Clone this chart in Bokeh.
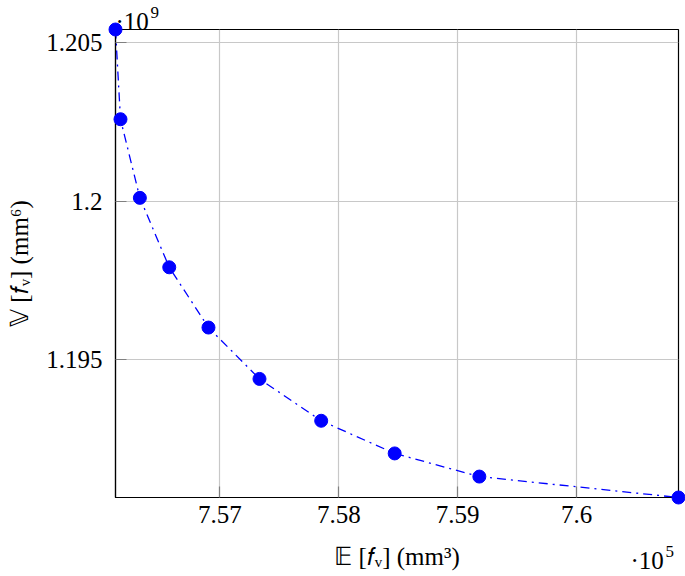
from bokeh.plotting import figure
from bokeh.models import Range1d, FixedTicker, CustomJSTickFormatter
from bokeh.core.properties import value
from bokeh.embed import file_html
from bokeh.resources import INLINE

# Data (x in mm^3, y in mm^6)
e_vals = [756122, 756164, 756327, 756574, 756904, 757333, 757852, 758470, 759182, 760857]
v_vals = [1.20542e9, 1.20259e9, 1.20011e9, 1.19792e9, 1.19602e9, 1.19440e9,
          1.19308e9, 1.19205e9, 1.19132e9, 1.19066e9]
x_ticks = [757000, 758000, 759000, 760000]
y_ticks = [1.195e9, 1.200e9, 1.205e9]
x_scale_base, x_scale_exp = "·10", "5"
y_scale_base, y_scale_exp = "·10", "9"
x_label = "𝔼 [𝑓ᵥ] (mm³)"
y_label = "𝕍 [𝑓ᵥ] (mm⁶)"

FONT = "Liberation Serif"
FS = "25px"
FS_SUP = "17px"

p = figure(width=685, height=576, output_backend="svg", toolbar_location=None,
           x_range=Range1d(min(e_vals), max(e_vals)),
           y_range=Range1d(min(v_vals), max(v_vals)),
           min_border_left=115, min_border_right=7, min_border_top=29, min_border_bottom=79)

p.background_fill_color = "white"
p.border_fill_color = "white"
p.outline_line_color = "black"
p.outline_line_width = 1.2

for ax in (p.xaxis[0], p.yaxis[0]):
    ax.axis_line_color = "black"
    ax.axis_line_width = 1.2
    ax.major_tick_in = 11
    ax.major_tick_out = 0
    ax.major_tick_line_color = "#808080"
    ax.major_tick_line_width = 1.2
    ax.minor_tick_line_color = None
    ax.major_label_text_font = FONT
    ax.major_label_text_font_size = FS
    ax.major_label_text_color = "black"
    ax.axis_label_text_font = FONT
    ax.axis_label_text_font_size = FS
    ax.axis_label_text_font_style = "normal"
    ax.axis_label_text_color = "black"

p.xaxis[0].ticker = FixedTicker(ticks=x_ticks)
p.yaxis[0].ticker = FixedTicker(ticks=y_ticks)
p.xaxis[0].formatter = CustomJSTickFormatter(code="return String(Number((tick/1e5).toFixed(4)));")
p.yaxis[0].formatter = CustomJSTickFormatter(code="return String(Number((tick/1e9).toFixed(4)));")
p.xaxis[0].major_label_standoff = 8
p.yaxis[0].major_label_standoff = 13
p.xaxis[0].axis_label = x_label
p.yaxis[0].axis_label = y_label
p.xaxis[0].axis_label_standoff = 17
p.yaxis[0].axis_label_standoff = 10

p.xgrid.ticker = FixedTicker(ticks=x_ticks)
p.ygrid.ticker = FixedTicker(ticks=y_ticks)
for g in (p.xgrid[0], p.ygrid[0]):
    g.grid_line_color = "#c8c8c8"
    g.grid_line_width = 1.2

p.line(e_vals, v_vals, line_color="#0000ff", line_width=1.3, line_dash="9 5 2 5")
pts = p.scatter(e_vals, v_vals, size=13, fill_color="#0000ff", line_color="#0000ff")
pts.level = "overlay"

def exp_label(x, y, base, exp, dx, dy):
    a = p.text(x=[x], y=[y], text=[base], x_offset=dx, y_offset=dy,
               text_font=value(FONT), text_font_size=FS, text_align="left",
               text_baseline="alphabetic", text_color="black")
    b = p.text(x=[x], y=[y], text=[exp], x_offset=dx + 35, y_offset=dy - 9,
               text_font=value(FONT), text_font_size=FS_SUP, text_align="left",
               text_baseline="alphabetic", text_color="black")
    a.level = "overlay"
    b.level = "overlay"

exp_label(min(e_vals), max(v_vals), y_scale_base, y_scale_exp, 0, -8)
exp_label(max(e_vals), min(v_vals), x_scale_base, x_scale_exp, -48, 63)

open("out.html", "w").write(file_html(p, INLINE))
